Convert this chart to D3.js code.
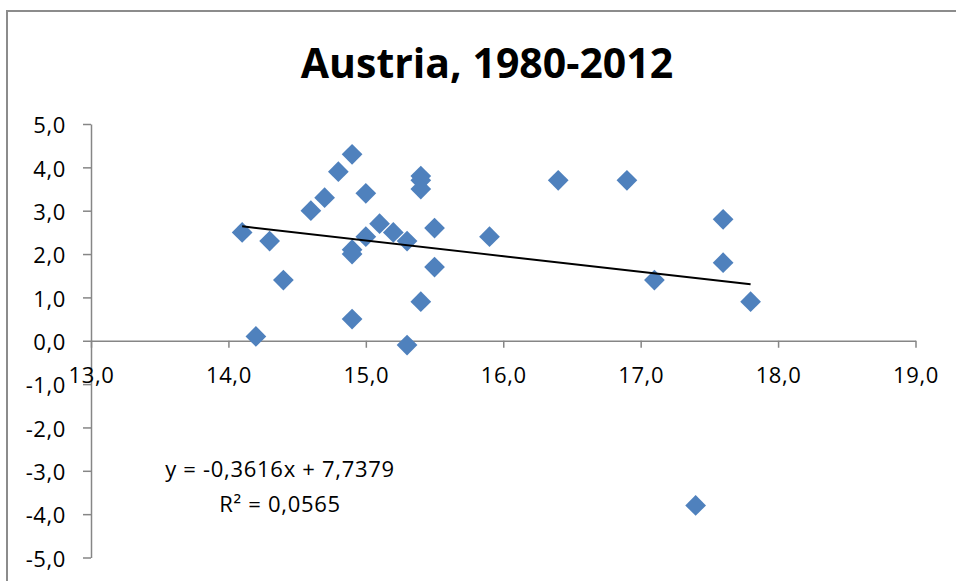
<!DOCTYPE html>
<html>
<head>
<meta charset="utf-8">
<script src="https://cdn.jsdelivr.net/npm/d3@7"></script>
<style>
  body { margin: 0; background: #fff; }
  #chart { width: 956px; height: 581px; }
</style>
</head>
<body>
<div id="chart"></div>
<script>
// Austria, 1980-2012 scatter values (x, y)
const xValues = [14.1, 14.2, 14.3, 14.4, 14.6, 14.7, 14.8, 14.9, 14.9, 14.9, 14.9,
                 15.0, 15.0, 15.1, 15.2, 15.3, 15.3, 15.4, 15.4, 15.4, 15.4, 15.5, 15.5,
                 15.9, 16.4, 16.9, 17.1, 17.4, 17.6, 17.6, 17.8];
const yValues = [2.5, 0.1, 2.3, 1.4, 3.0, 3.3, 3.9, 4.3, 2.1, 2.0, 0.5,
                 3.4, 2.4, 2.7, 2.5, 2.3, -0.1, 3.8, 3.7, 3.5, 0.9, 2.6, 1.7,
                 2.4, 3.7, 3.7, 1.4, -3.8, 2.8, 1.8, 0.9];
const xTicks = [13, 14, 15, 16, 17, 18, 19];
const yTicks = [-5, -4, -3, -2, -1, 0, 1, 2, 3, 4, 5];
const trendSlope = -0.3616;
const trendIntercept = 7.7379;
const trendR2 = 0.0565;
const chartTitle = "Austria, 1980-2012";

const width = 956, height = 581;
const font = "'Open Sans', sans-serif";

const locale = d3.formatLocale({decimal: ",", thousands: ".", grouping: [3], currency: ["", ""], minus: "-"});
const fmt1 = locale.format(".1f");
const fmt4 = locale.format(".4f");

const svg = d3.select("#chart")
    .append("svg")
    .attr("width", width)
    .attr("height", height);

// outer frame
svg.append("rect")
    .attr("x", 7)
    .attr("y", 11)
    .attr("width", 980)
    .attr("height", 620)
    .attr("fill", "white")
    .attr("stroke", "#8c8c8c")
    .attr("stroke-width", 2);

svg.append("text")
    .attr("x", 487)
    .attr("y", 78)
    .attr("text-anchor", "middle")
    .attr("font-family", font)
    .attr("font-weight", "bold")
    .attr("font-size", "41px")
    .attr("fill", "black")
    .text(chartTitle);

const x = d3.scaleLinear().domain([13, 19]).range([91, 915.5]);
const y = d3.scaleLinear().domain([-5, 5]).range([557.5, 124]);

// y axis at x = 13
const yAxis = svg.append("g")
    .attr("transform", "translate(" + x(13) + ",0)")
    .call(d3.axisLeft(y).tickValues(yTicks).tickFormat(fmt1)
        .tickSize(8).tickSizeOuter(0).tickPadding(17));

// x axis at y = 0
const xAxis = svg.append("g")
    .attr("transform", "translate(0," + y(0) + ")")
    .call(d3.axisBottom(x).tickValues(xTicks).tickFormat(fmt1)
        .tickSize(7).tickSizeOuter(0).tickPadding(20));

[xAxis, yAxis].forEach(function(g) {
    g.select(".domain").attr("stroke", "#868686").attr("stroke-width", 1.5);
    g.selectAll(".tick line").attr("stroke", "#868686").attr("stroke-width", 1.5);
    g.selectAll(".tick text")
        .attr("fill", "black")
        .attr("font-family", font)
        .attr("font-size", "22px")
        .attr("letter-spacing", "0.6px");
});
yAxis.selectAll(".tick text").attr("dy", "0.4em");

// trendline over the data's x range
const xExtent = d3.extent(xValues);
const trendLine = d3.line()
    .x(function(d) { return x(d); })
    .y(function(d) { return y(trendSlope * d + trendIntercept); });

// points
const points = xValues.map(function(v, i) { return {x: v, y: yValues[i]}; });
const diamond = d3.symbol().type(d3.symbolSquare).size(215);

svg.append("g")
    .selectAll("path")
    .data(points)
    .enter()
    .append("path")
    .attr("d", diamond)
    .attr("transform", function(d) {
        return "translate(" + x(d.x) + "," + y(d.y) + ") rotate(45)";
    })
    .attr("fill", "#4f81bd");

svg.append("path")
    .datum(xExtent)
    .attr("d", trendLine)
    .attr("fill", "none")
    .attr("stroke", "black")
    .attr("stroke-width", 2);

// equation label
const eq = svg.append("text")
    .attr("text-anchor", "middle")
    .attr("font-family", font)
    .attr("font-size", "22px")
    .attr("letter-spacing", "0.7px")
    .attr("fill", "black");
eq.append("tspan")
    .attr("x", 280)
    .attr("y", 477)
    .text("y = " + fmt4(trendSlope) + "x + " + fmt4(trendIntercept));
eq.append("tspan")
    .attr("x", 280)
    .attr("y", 512)
    .text("R² = " + fmt4(trendR2));
</script>
</body>
</html>
